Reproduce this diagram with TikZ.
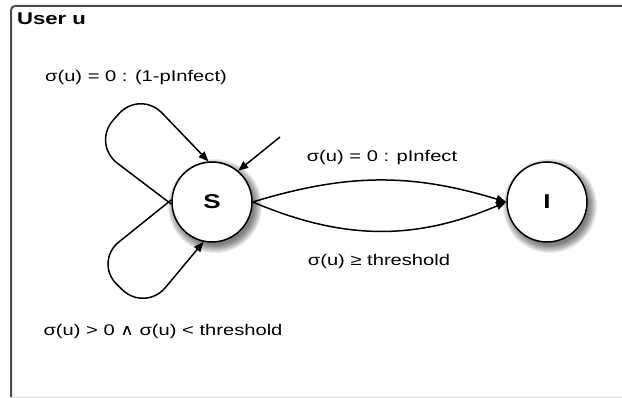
\documentclass[tikz,border=0pt]{standalone}
\usepackage{fontspec}
\setmainfont{Liberation Sans}
\newfontfamily\widesans[FakeStretch=1.3]{Liberation Sans}
\newfontfamily\symfont[FakeStretch=1.2]{DejaVu Sans}
\usetikzlibrary{arrows.meta}
\begin{document}
\begin{tikzpicture}[x=1pt,y=-1pt,
  state/.style={circle,draw=black,line width=1.5pt,fill=white,minimum size=80pt,inner sep=0pt,
    font=\widesans\fontsize{20}{22}\selectfont\bfseries},
  trans/.style={draw=black,line width=1.5pt,-{Triangle[length=10pt,width=8pt]}},
  lbl/.style={font=\widesans\fontsize{15.5}{17}\selectfont,inner sep=0pt}]
\useasboundingbox (0,0) rectangle (622,398);
\fill[white] (0,0) rectangle (622,398);
% frame of the user block
\draw[black!70,line width=2pt,rounded corners=4pt] (11,397) -- (11,6) -- (623,6);
\draw[black!15,line width=0.8pt] (11,397.5) -- (623,397.5);
\node[anchor=west,font=\widesans\fontsize{17}{19}\selectfont\bfseries,inner sep=0pt] (title) at (17,19) {User u};
% soft shadows under the states
\coordinate (Sc) at (212,202);
\coordinate (Ic) at (547,202);
\foreach \c in {Sc,Ic}
  \foreach \r in {47,46,...,39}
    \fill[black,opacity=0.07] ([shift={(3,4)}]\c) circle[radius=\r];
% states
\node[state] (S) at (Sc) {S};
\node[state] (I) at (Ic) {I};
% initial arrow
\coordinate (init) at (280,137);
\draw[trans] (init) -- (S.50);
% self loops
\draw[trans,rounded corners=32pt] (S.183) -- (92,144) -- (140,90) -- (S.95);
\draw[trans,rounded corners=32pt] (S.177) -- (94,262) -- (145,312) -- (S.-102);
% transitions to I
\draw[trans] (S.east) to[bend left=17] (I.west);
\draw[trans] (S.east) to[bend right=23] (I.west);
% labels
\node[lbl] (l1) at (136,77) {σ(u) = 0 : (1-pInfect)};
\node[lbl] (l2) at (382,157) {σ(u) = 0 : pInfect};
\node[lbl] (l3) at (379,261) {σ(u) ≥ threshold};
\node[lbl] (l4) at (163,331) {σ(u) > 0 {\symfont ∧} σ(u) < threshold};
\end{tikzpicture}
\end{document}
